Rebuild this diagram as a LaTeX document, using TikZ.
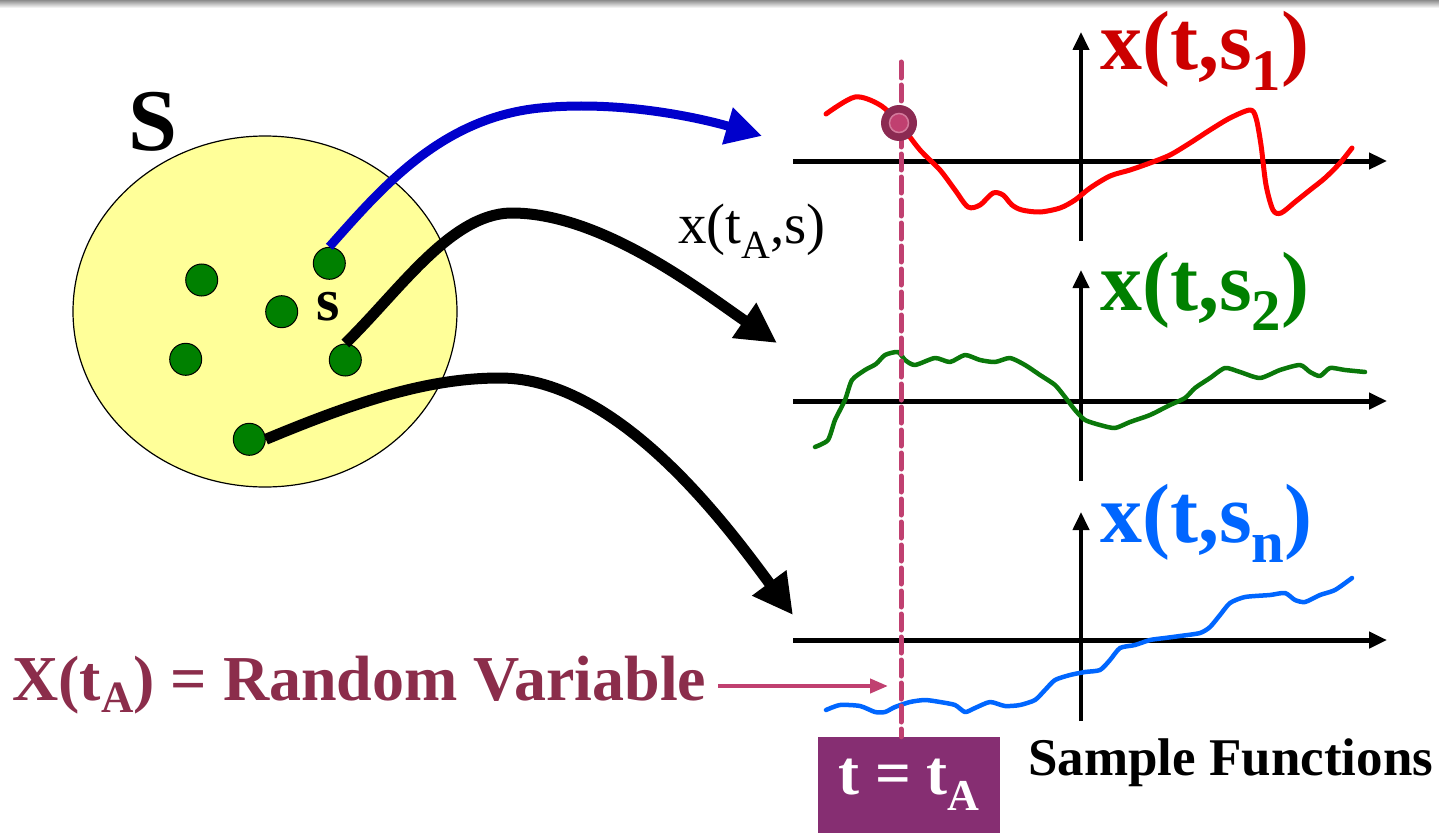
\documentclass[tikz,border=0pt]{standalone}
\usepackage{fontspec}
\usepackage{graphicx}
\setmainfont{Liberation Serif}
\usetikzlibrary{arrows.meta,shapes.geometric}
\definecolor{setyellow}{RGB}{255,255,153}
\definecolor{dotgreen}{RGB}{0,128,0}
\definecolor{arrblue}{RGB}{0,0,204}
\definecolor{labred}{RGB}{204,0,0}
\definecolor{curvered}{RGB}{255,0,0}
\definecolor{labgreen}{RGB}{0,128,0}
\definecolor{curvegreen}{RGB}{10,120,10}
\definecolor{labblue}{RGB}{0,102,255}
\definecolor{dashcol}{RGB}{192,64,112}
\definecolor{markdark}{RGB}{139,42,82}
\definecolor{rvcol}{RGB}{139,45,75}
\definecolor{boxpurple}{RGB}{134,46,114}
\newcommand{\lsub}[2]{\raisebox{-#2}{\scalebox{0.7}{#1}}}
\begin{document}
\begin{tikzpicture}[x=1pt,y=-1pt,
  dot/.style={circle,draw=black,line width=1,fill=dotgreen,minimum size=32,inner sep=0},
  bigarrow/.style={line width=11,-{Triangle[length=40,width=40]}},
  axisline/.style={line width=5,-{Triangle[length=18,width=16]}},
  vaxis/.style={line width=4,-{Triangle[length=18,width=16]}},
  curve/.style={line width=4.5,line join=round,line cap=round},
  lab/.style={anchor=base west,inner sep=0,font=\fontsize{84}{90}\selectfont\bfseries}
]
\useasboundingbox (0,0) rectangle (1439,832);
\shade[top color=black!45,bottom color=white] (0,0) rectangle (1439,8);

% sample space
\node[ellipse,draw=black,line width=1.2,fill=setyellow,minimum width=384,minimum height=351,inner sep=0] (set) at (265,311.5) {};
\node[anchor=base west,inner sep=0,font=\fontsize{88}{90}\selectfont\bfseries] (S) at (128,150) {S};
\node[dot] (d1) at (201.7,280) {};
\node[dot] (d2) at (281.7,311.7) {};
\node[dot] (d3) at (329.3,263.3) {};
\node[dot] (d4) at (185.7,359.3) {};
\node[dot] (d5) at (345.3,360) {};
\node[dot] (d6) at (249.3,439.3) {};
\node[anchor=base west,inner sep=0,font=\fontsize{60}{60}\selectfont\bfseries] (s) at (316,320) {s};

% axes
\coordinate (h1s) at (793,161); \coordinate (h1e) at (1387,161);
\coordinate (v1s) at (1081,241); \coordinate (v1e) at (1081,32);
\coordinate (h2s) at (793,401); \coordinate (h2e) at (1387,401);
\coordinate (v2s) at (1081,481); \coordinate (v2e) at (1081,270);
\coordinate (h3s) at (793,640); \coordinate (h3e) at (1387,640);
\coordinate (v3s) at (1081,721); \coordinate (v3e) at (1081,512);
\draw[axisline] (h1s) -- (h1e);
\draw[vaxis] (v1s) -- (v1e);
\draw[axisline] (h2s) -- (h2e);
\draw[vaxis] (v2s) -- (v2e);
\draw[axisline] (h3s) -- (h3e);
\draw[vaxis] (v3s) -- (v3e);

% sample functions
\draw[curve,curvered,line width=5] plot[smooth,tension=0.5] coordinates {(826,114) (855,97) (880,105) (899,123) (920,150) (940,170) (955,190) (968,207) (980,205) (993,193) (1003,195) (1012,205) (1022,210) (1040,212) (1060,208) (1075,200) (1090,188) (1110,176) (1130,170) (1150,163) (1170,155) (1190,143) (1210,130) (1230,118) (1250,110) (1256,118) (1261,145) (1266,185) (1273,210) (1281,213) (1295,202) (1310,190) (1325,178) (1340,163) (1352,148)};
\draw[curve,curvegreen] plot[smooth,tension=0.4] coordinates {(815,447) (828,440) (835,420) (845,400) (852,380) (865,370) (876,364) (885,355) (898,352) (905,360) (915,365) (935,358) (950,362) (965,355) (980,360) (995,362) (1010,358) (1025,365) (1040,375) (1055,385) (1065,397) (1075,410) (1085,420) (1100,425) (1115,428) (1130,422) (1150,415) (1170,405) (1185,398) (1195,388) (1210,378) (1225,368) (1240,372) (1260,378) (1280,370) (1300,365) (1310,372) (1320,376) (1330,368) (1345,370) (1365,372)};
\draw[curve,labblue] plot[smooth,tension=0.4] coordinates {(826,710) (840,705) (860,706) (875,712) (885,712) (895,707) (910,702) (925,700) (940,702) (955,705) (965,712) (975,708) (990,702) (1005,706) (1020,705) (1035,700) (1045,690) (1055,680) (1070,675) (1085,672) (1100,670) (1110,660) (1120,648) (1135,645) (1150,640) (1165,638) (1180,636) (1200,633) (1210,627) (1220,615) (1230,603) (1245,597) (1270,595) (1285,593) (1295,600) (1305,602) (1320,595) (1335,590) (1352,578)};

% labels
\node[lab,text=labred] (l1) at (1100,70) {x(t,s\lsub{1}{0.24em})};
\node[lab,text=labgreen] (l2) at (1100,310) {x(t,s\lsub{2}{0.24em})};
\node[lab,text=labblue] (l3) at (1100,542) {x(t,s\lsub{n}{0.24em})};
\node[anchor=base west,inner sep=0,font=\fontsize{57}{57}\selectfont] (xta) at (678,243) {x(t\lsub{A}{0.28em},s)};

% t = tA box and dashed line
\node[fill=boxpurple,text=white,minimum width=182,minimum height=96,inner sep=0,font=\fontsize{63}{63}\selectfont\bfseries] (tb) at (909,785) {t = t\lsub{A}{0.25em}};
\coordinate (dtop) at (901,62);
\draw[dashcol,line width=5,dash pattern=on 16 off 7,line cap=round] (dtop) -- (dtop |- tb.north);
\node[circle,fill=markdark,minimum size=36,inner sep=0] (mk) at (899,123) {};
\node[circle,fill=dashcol,draw=dashcol!70!white,line width=1.5,minimum size=19,inner sep=0] (mki) at (mk.center) {};

% random variable label
\node[anchor=base west,inner sep=0,text=rvcol,font=\fontsize{64}{64}\selectfont\bfseries] (rv) at (12,700) {X(t\lsub{A}{0.2em}) = Random Variable};
\coordinate (rvend) at (888,686);
\draw[dashcol,line width=4,-{Triangle[length=18,width=14]}] (rv.east |- rvend) ++(12,0) coordinate (rvstart) -- (rvend);

\node[anchor=base west,inner sep=0,font=\fontsize{53}{53}\selectfont\bfseries] (sf) at (1028,775) {Sample Functions};

% mapping arrows
\coordinate (tipA) at (762,136);
\coordinate (tipB) at (777,343);
\coordinate (tipC) at (793,615);
\draw[arrblue,line width=9,-{Triangle[length=36,width=36]}] (d3.north) .. controls (380,190) and (440,118) .. (540,108) .. controls (620,100) and (700,118) .. (tipA);
\draw[bigarrow] (d5.north) .. controls (400,290) and (450,215) .. (510,213) .. controls (600,212) and (700,290) .. (tipB);
\draw[bigarrow] (d6.east) .. controls (360,400) and (430,378) .. (500,378) .. controls (620,378) and (730,530) .. (tipC);
\end{tikzpicture}
\end{document}
